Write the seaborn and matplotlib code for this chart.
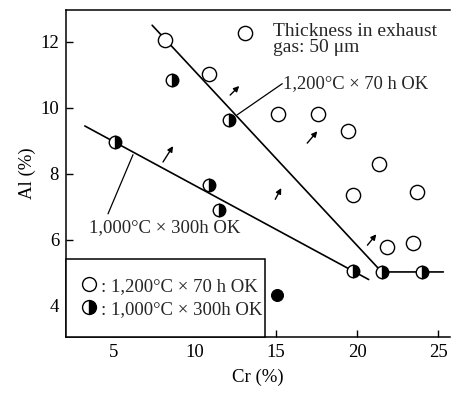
import matplotlib
matplotlib.use("Agg")
import matplotlib.pyplot as plt
from matplotlib.lines import Line2D
import seaborn as sns
import pandas as pd

# ---- data ----
open_cr = [8.15, 10.86, 13.1, 15.12, 17.6, 19.44, 21.36, 19.75, 23.7, 21.85, 23.46]
open_al = [12.06, 11.03, 12.27, 9.8, 9.8, 9.3, 8.3, 7.35, 7.45, 5.78, 5.9]
half_cr = [5.06, 8.58, 12.1, 10.86, 11.48, 19.75, 21.5, 23.97]
half_al = [8.97, 10.85, 9.64, 7.67, 6.91, 5.05, 5.03, 5.03]
solid_cr = [15.06]
solid_al = [4.33]
line1200_cr = [7.35, 21.5, 25.3]
line1200_al = [12.5, 5.03, 5.03]
line1000_cr = [3.2, 20.7]
line1000_al = [9.45, 4.8]
x_ticks = [5, 10, 15, 20, 25]
y_ticks = [4, 6, 8, 10, 12]
label_1200 = "1,200°C × 70 h OK"
label_1000 = "1,000°C × 300h OK"
note_text = "Thickness in exhaust\ngas: 50 μm"
# leader lines (start on curve, end at label)
leader1200_cr = [12.6, 15.37]
leader1200_al = [9.79, 10.73]
leader1000_cr = [6.17, 4.63]
leader1000_al = [8.58, 6.79]
# small arrows: (tail_cr, tail_al, head_cr, head_al)
arrows = [
    (12.16, 10.385, 12.72, 10.66),
    (16.91, 8.93, 17.53, 9.29),
    (8.02, 8.36, 8.64, 8.84),
    (14.94, 7.23, 15.31, 7.57),
    (20.62, 5.84, 21.17, 6.17),
]

sns.set_theme(style="white")
plt.rcParams["font.family"] = ["Liberation Serif", "DejaVu Serif"]

fig = plt.figure(figsize=(4.53, 3.94), dpi=100)
ax = fig.add_axes([0.1457, 0.1455, 0.848, 0.829])

df1200 = pd.DataFrame({"Cr": line1200_cr, "Al": line1200_al})
df1000 = pd.DataFrame({"Cr": line1000_cr, "Al": line1000_al})
sns.lineplot(data=df1200, x="Cr", y="Al", estimator=None, sort=False,
             color="black", lw=1.2, ax=ax, zorder=2)
sns.lineplot(data=df1000, x="Cr", y="Al", estimator=None, sort=False,
             color="black", lw=1.2, ax=ax, zorder=2)
sns.lineplot(x=leader1200_cr, y=leader1200_al, estimator=None, sort=False,
             color="black", lw=0.9, ax=ax, zorder=2)
sns.lineplot(x=leader1000_cr, y=leader1000_al, estimator=None, sort=False,
             color="black", lw=0.9, ax=ax, zorder=2)

df_open = pd.DataFrame({"Cr": open_cr, "Al": open_al})
sns.scatterplot(data=df_open, x="Cr", y="Al", s=105, facecolor="white",
                edgecolor="black", linewidth=1.0, ax=ax, zorder=4)

df_half = pd.DataFrame({"Cr": half_cr, "Al": half_al})
sns.lineplot(data=df_half, x="Cr", y="Al", estimator=None, sort=False,
             linestyle="", marker="o", markersize=9, fillstyle="right",
             markerfacecolor="black", markerfacecoloralt="white",
             markeredgecolor="black", markeredgewidth=1.0,
             color="black", ax=ax, zorder=4)

df_solid = pd.DataFrame({"Cr": solid_cr, "Al": solid_al})
sns.scatterplot(data=df_solid, x="Cr", y="Al", s=75, color="black",
                edgecolor="black", ax=ax, zorder=4)

for tcr, tal, hcr, hal in arrows:
    ax.annotate("", xy=(hcr, hal), xytext=(tcr, tal),
                arrowprops=dict(arrowstyle="-|>", color="black", lw=1.0,
                                mutation_scale=8, shrinkA=0, shrinkB=0))

ax.text(14.8, 12.06, note_text, ha="left", va="center", fontsize=14,
        linespacing=0.95)
ax.text(15.4, 10.73, label_1200, ha="left", va="center", fontsize=13.3)
ax.text(3.46, 6.36, label_1000, ha="left", va="center", fontsize=13.5)

# legend
h1 = Line2D([], [], linestyle="", marker="o", markersize=10,
            markerfacecolor="white", markeredgecolor="black", markeredgewidth=1.0)
h2 = Line2D([], [], linestyle="", marker="o", markersize=10, fillstyle="right",
            markerfacecolor="black", markerfacecoloralt="white",
            markeredgecolor="black", markeredgewidth=1.0)
leg = ax.legend([h1, h2], [": " + label_1200, ": " + label_1000],
                loc="lower left", bbox_to_anchor=(0, 0, 0.518, 0.3),
                mode="expand", borderaxespad=0, fancybox=False,
                frameon=True, edgecolor="black", fontsize=13.5,
                handlelength=0.5, handletextpad=0.35, labelspacing=0.32,
                borderpad=1.0)
leg.get_frame().set_linewidth(1.1)
leg.get_frame().set_alpha(1)
leg.set_zorder(5)

ax.set_xlim(2.04, 25.72)
ax.set_ylim(3.07, 12.96)
ax.set_xticks(x_ticks)
ax.set_yticks(y_ticks)
ax.tick_params(direction="in", length=5, width=1.0, labelsize=13.5,
               colors="black", bottom=True, left=True, pad=5)
for side in ["left", "bottom", "top"]:
    ax.spines[side].set_color("black")
    ax.spines[side].set_linewidth(1.1)
ax.spines["right"].set_visible(False)
ax.set_xlabel("Cr (%)", fontsize=13.5, color="black", labelpad=6)
ax.set_ylabel("Al (%)", fontsize=13.5, color="black", labelpad=3)
ax.grid(False)

fig.savefig("out.png", dpi=100)
